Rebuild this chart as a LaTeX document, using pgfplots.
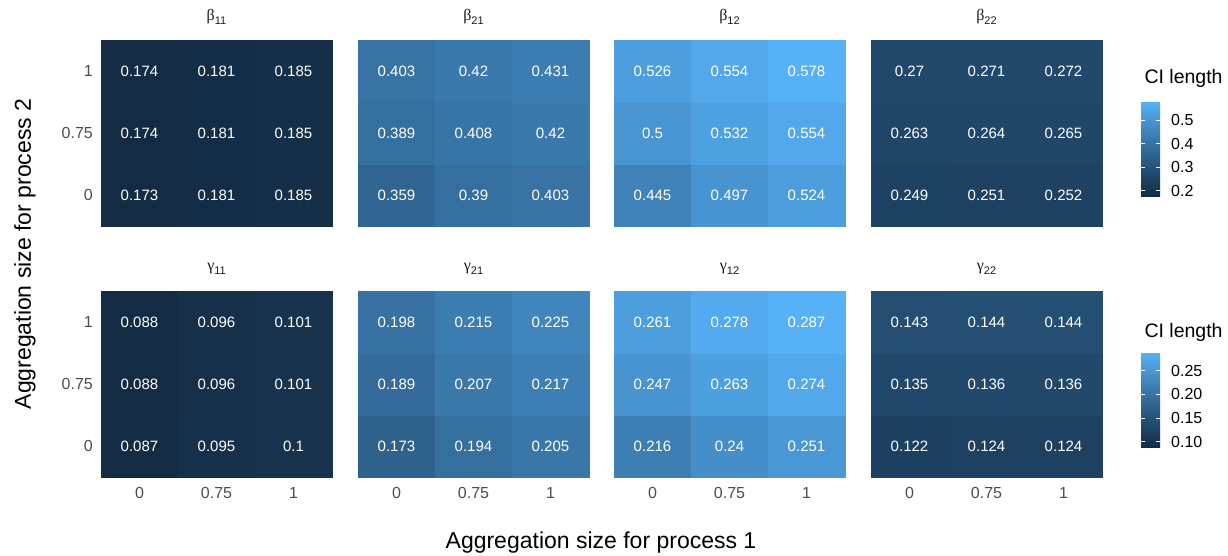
\documentclass[border=0pt]{standalone}
\usepackage{pgfplots}
\pgfplotsset{compat=1.18}
\usepackage{pgfplotstable}
\usepackage{fontspec}
\setmainfont{Liberation Sans}
\newfontfamily\greekfont{Liberation Serif}

\definecolor{grey30}{RGB}{77,77,77}
\definecolor{grey10}{RGB}{26,26,26}

% CI lengths, one table per panel: x = process-1 level (0, 0.75, 1), y = process-2 level
\pgfplotstableread{
x y v
0 0 0.173
1 0 0.181
2 0 0.185
0 1 0.174
1 1 0.181
2 1 0.185
0 2 0.174
1 2 0.181
2 2 0.185
}\tbBaa
\pgfplotstableread{
x y v
0 0 0.359
1 0 0.39
2 0 0.403
0 1 0.389
1 1 0.408
2 1 0.42
0 2 0.403
1 2 0.42
2 2 0.431
}\tbBba
\pgfplotstableread{
x y v
0 0 0.445
1 0 0.497
2 0 0.524
0 1 0.5
1 1 0.532
2 1 0.554
0 2 0.526
1 2 0.554
2 2 0.578
}\tbBab
\pgfplotstableread{
x y v
0 0 0.249
1 0 0.251
2 0 0.252
0 1 0.263
1 1 0.264
2 1 0.265
0 2 0.27
1 2 0.271
2 2 0.272
}\tbBbb
\pgfplotstableread{
x y v
0 0 0.087
1 0 0.095
2 0 0.1
0 1 0.088
1 1 0.096
2 1 0.101
0 2 0.088
1 2 0.096
2 2 0.101
}\tbGaa
\pgfplotstableread{
x y v
0 0 0.173
1 0 0.194
2 0 0.205
0 1 0.189
1 1 0.207
2 1 0.217
0 2 0.198
1 2 0.215
2 2 0.225
}\tbGba
\pgfplotstableread{
x y v
0 0 0.216
1 0 0.24
2 0 0.251
0 1 0.247
1 1 0.263
2 1 0.274
0 2 0.261
1 2 0.278
2 2 0.287
}\tbGab
\pgfplotstableread{
x y v
0 0 0.122
1 0 0.124
2 0 0.124
0 1 0.135
1 1 0.136
2 1 0.136
0 2 0.143
1 2 0.144
2 2 0.144
}\tbGbb

\pgfplotsset{
  colormap={gg}{rgb255=(19,43,67) rgb255=(34,73,108) rgb255=(51,106,152) rgb255=(68,141,198) rgb255=(86,177,247)},
  panel/.style={
    scale only axis, width=231pt, height=186pt, anchor=south west,
    xmin=-0.5, xmax=2.5, ymin=-0.5, ymax=2.5, clip=false,
    axis line style={draw=none}, major tick length=0pt,
    xtick={0,1,2}, ytick={0,1,2}, xticklabels={}, yticklabels={},
    colormap name=gg,
    /pgf/number format/fixed, /pgf/number format/precision=3,
    /pgf/number format/assume math mode=true,
    xticklabel style={font=\fontsize{16}{16}\selectfont, text=grey30, inner sep=0pt, anchor=north, yshift=-10pt},
    yticklabel style={font=\fontsize{16}{16}\selectfont, text=grey30, inner sep=0pt, anchor=east, xshift=-8pt},
  },
  toprow/.style={panel, point meta min=0.173, point meta max=0.578},
  botrow/.style={panel, point meta min=0.087, point meta max=0.287},
  leftcol/.style={yticklabels={0,0.75,1}},
  bottomlab/.style={xticklabels={0,0.75,1}},
  scalebar/.style={
    colorbar, colorbar/width=19pt,
    colorbar style={
      scale only axis,
      at={(parent axis.north east)}, anchor=north west,
      xshift=30.5pt, yshift=-62pt, height=95pt,
      axis line style={draw=none},
      major tick length=4pt, tick align=inside, ytick pos=both,
      major tick style={draw=white, line width=1pt},
      yticklabel pos=right,
      ytick={#1}, yticklabels={#1},
      yticklabel style={font=\fontsize{16}{16}\selectfont, text=black, inner sep=0pt, anchor=west, xshift=11pt},
    },
  },
}

\newcommand{\cells}[1]{%
  \addplot[matrix plot*, mesh/cols=3, point meta=explicit] table[meta=v]{#1};
  \addplot[draw=none, mark=none, point meta=explicit, nodes near coords,
    nodes near coords style={anchor=center, font=\fontsize{15}{15}\selectfont, text=white}]
    table[meta=v]{#1};
}
% facet strip label: Greek letter with a two-digit subscript
\newcommand{\strip}[3]{%
  \node[font=\fontsize{16}{16}\selectfont, text=grey10, inner sep=0pt] at (rel axis cs:0.5,1) [yshift=#3]
    {{\greekfont #1}\raisebox{-0.25em}{\fontsize{11}{11}\selectfont #2}};
}

\begin{document}
\begin{tikzpicture}
\path[use as bounding box] (0pt,0pt) rectangle (1228pt,556pt);

% upper row: beta coefficients
\begin{axis}[toprow, leftcol, at={(101pt,330pt)}]
  \cells{\tbBaa}\strip{β}{11}{23pt}
\end{axis}
\begin{axis}[toprow, at={(358pt,330pt)}]
  \cells{\tbBba}\strip{β}{21}{23pt}
\end{axis}
\begin{axis}[toprow, at={(614pt,330pt)}]
  \cells{\tbBab}\strip{β}{12}{23pt}
\end{axis}
\begin{axis}[toprow, at={(871pt,330pt)}, scalebar={0.2,0.3,0.4,0.5}]
  \cells{\tbBbb}\strip{β}{22}{23pt}
\end{axis}

% lower row: gamma coefficients
\begin{axis}[botrow, leftcol, bottomlab, at={(101pt,79pt)}]
  \cells{\tbGaa}\strip{γ}{11}{22pt}
\end{axis}
\begin{axis}[botrow, bottomlab, at={(358pt,79pt)}]
  \cells{\tbGba}\strip{γ}{21}{22pt}
\end{axis}
\begin{axis}[botrow, bottomlab, at={(614pt,79pt)}]
  \cells{\tbGab}\strip{γ}{12}{22pt}
\end{axis}
\begin{axis}[botrow, bottomlab, at={(871pt,79pt)}, scalebar={0.10,0.15,0.20,0.25}]
  \cells{\tbGbb}\strip{γ}{22}{22pt}
\end{axis}

% legend titles and shared axis titles
\node[anchor=west, font=\fontsize{19.5}{19.5}\selectfont] at (1141pt,478pt) {CI length};
\node[anchor=west, font=\fontsize{19.5}{19.5}\selectfont] at (1141pt,224pt) {CI length};
\node[font=\fontsize{23}{23}\selectfont, rotate=90] at (25pt,302pt) {Aggregation size for process 2};
\node[font=\fontsize{23}{23}\selectfont] at (601pt,13pt) {Aggregation size for process 1};
\end{tikzpicture}
\end{document}
